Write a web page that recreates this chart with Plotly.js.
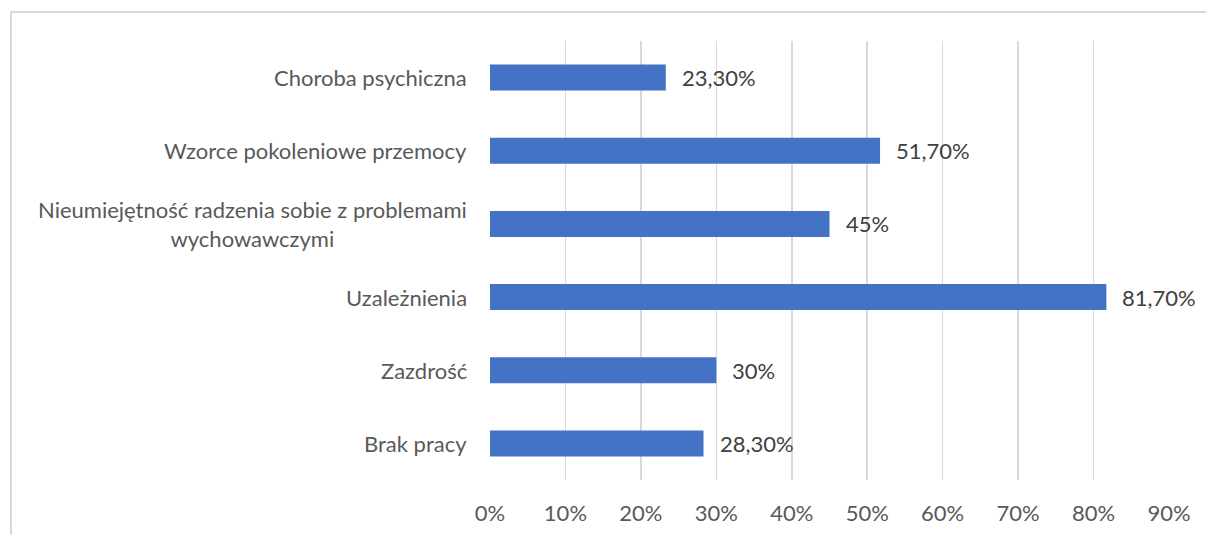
<!DOCTYPE html>
<html>
<head>
<meta charset="utf-8">
<script src="https://cdn.plot.ly/plotly-3.0.1.min.js"></script>
<style>
  body { margin: 0; background: #fff; }
  #plot { position: absolute; left: 0; top: 0; width: 1206px; height: 535px; }
  #frame { position: absolute; left: 10px; top: 11px; width: 1300px; height: 600px;
           border-top: 2px solid #d9d9d9; border-left: 2px solid #d9d9d9; pointer-events: none; }
</style>
</head>
<body>
<div id="plot"></div>
<div id="frame"></div>
<script>
var categories = [
    "Choroba psychiczna",
    "Wzorce pokoleniowe przemocy",
    "Nieumiejętność radzenia sobie z problemami<br>wychowawczymi",
    "Uzależnienia",
    "Zazdrość",
    "Brak pracy"
];
var values = [0.233, 0.517, 0.45, 0.817, 0.30, 0.283];
var valueLabels = ["23,30%", "51,70%", "45%", "81,70%", "30%", "28,30%"];

var trace = {
    type: "bar",
    orientation: "h",
    x: values,
    y: categories,
    marker: { color: "#4472C4" },
    hoverinfo: "none"
};

var annotations = [];
categories.forEach(function (c, i) {
    // category label, centred lines like the original
    annotations.push({
        xref: "paper", yref: "y",
        x: 0, y: c,
        xanchor: "right", yanchor: "middle",
        xshift: -21,
        align: "center",
        text: c,
        showarrow: false,
        font: { family: "Lato, sans-serif", size: 22, color: "#595959" }
    });
    // value label
    annotations.push({
        xref: "x", yref: "y",
        x: values[i], y: c,
        xanchor: "left", yanchor: "middle",
        xshift: 14,
        text: valueLabels[i],
        showarrow: false,
        font: { family: "Lato, sans-serif", size: 22, color: "#404040" }
    });
});

var layout = {
    width: 1206,
    height: 535,
    margin: { l: 490, r: 37, t: 41, b: 55 },
    paper_bgcolor: "rgba(0,0,0,0)",
    plot_bgcolor: "rgba(0,0,0,0)",
    showlegend: false,
    bargap: 0.645,
    font: { family: "Lato, sans-serif", size: 22, color: "#595959" },
    xaxis: {
        range: [0, 0.9],
        dtick: 0.1,
        tickformat: ".0%",
        showgrid: true,
        gridcolor: "#d9d9d9",
        gridwidth: 1.5,
        zeroline: false,
        showline: false,
        ticklabelstandoff: 18,
        tickfont: { family: "Lato, sans-serif", size: 22, color: "#595959" },
        fixedrange: true
    },
    yaxis: {
        type: "category",
        autorange: "reversed",
        showticklabels: false,
        showgrid: false,
        zeroline: false,
        showline: false,
        fixedrange: true
    },
    annotations: annotations
};

Plotly.newPlot("plot", [trace], layout, { displayModeBar: false, staticPlot: true });
</script>
</body>
</html>
